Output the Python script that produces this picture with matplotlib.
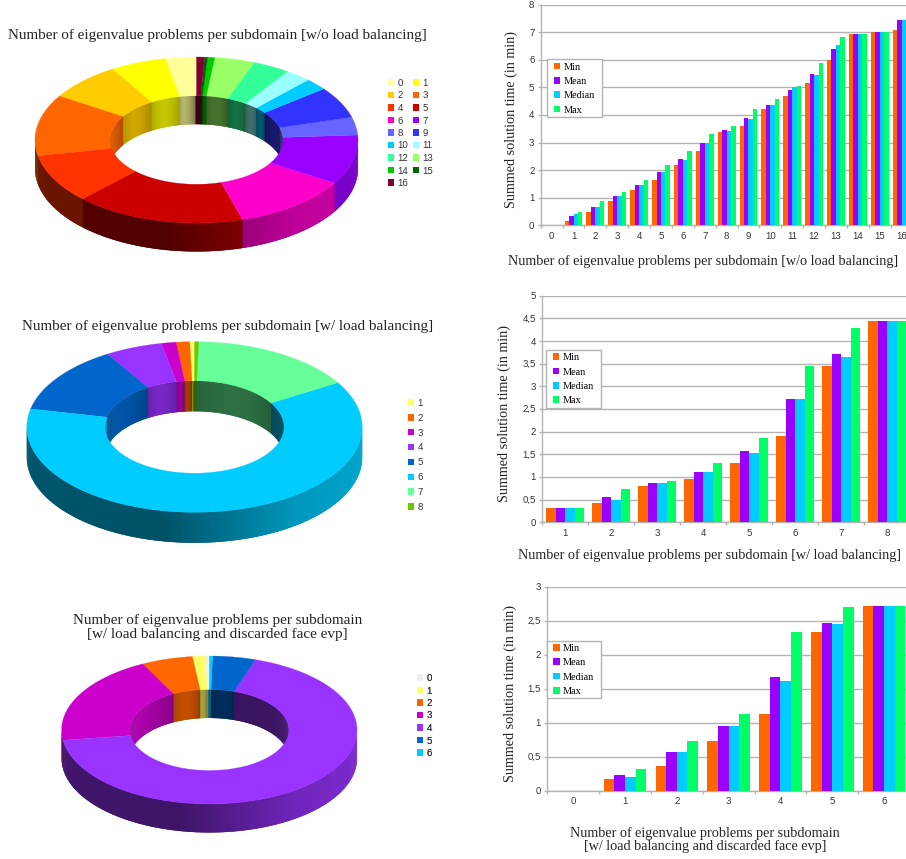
import numpy as np
import matplotlib
matplotlib.use("Agg")
import matplotlib.pyplot as plt
from matplotlib.collections import PolyCollection
from matplotlib.patches import Patch, Rectangle
from matplotlib.colors import to_rgb
from matplotlib.transforms import Affine2D

plt.rcParams["text.hinting"] = "no_autohint"

W, H = 906, 859
SERIF = "Liberation Serif"
SANS = "Liberation Sans"
GRID = "#b3b3b3"

# Share of subdomains (percent) for each eigenvalue-problem count
plain_labels = [str(i) for i in range(17)]
plain_shares = [3.1, 5.6, 7.4, 11.9, 9.5, 17.0, 11.7, 9.6, 3.5, 6.1, 2.3, 2.6, 3.7, 4.0, 0.7, 0.3, 0.8]
plain_colors = ["#ffff99", "#ffff00", "#ffcc00", "#ff6600", "#ff3300", "#cc0000", "#ff00cc", "#9900ff", "#6666ff",
                "#3333ff", "#00ccff", "#99ffff", "#33ff99", "#99ff66", "#00cc00", "#006600", "#800033"]

balanced_labels = [str(i) for i in range(1, 9)]
balanced_shares = [0.45, 1.3, 1.45, 5.5, 12.9, 62.1, 15.9, 0.4]
balanced_colors = ["#ffff66", "#ff6600", "#cc00cc", "#9933ff", "#0066cc", "#00ccff", "#66ff99", "#66cc00"]

discarded_labels = [str(i) for i in range(7)]
discarded_shares = [0.47, 1.37, 5.6, 19.76, 67.75, 4.7, 0.35]
discarded_colors = ["#eeeeee", "#ffff66", "#ff6600", "#cc00cc", "#9933ff", "#0066cc", "#00ccff"]

# Summed solution time (minutes) per category
plain_min = [0, 0.15, 0.47, 0.87, 1.27, 1.63, 2.18, 2.68, 3.38, 3.60, 4.22, 4.68, 5.16, 6.00, 6.94, 7.00, 7.08]
plain_mean = [0, 0.33, 0.65, 1.05, 1.45, 1.92, 2.40, 2.98, 3.45, 3.88, 4.36, 4.90, 5.48, 6.38, 6.94, 7.00, 7.45]
plain_median = [0, 0.40, 0.65, 1.05, 1.45, 1.92, 2.37, 2.98, 3.42, 3.85, 4.36, 5.00, 5.45, 6.53, 6.94, 7.00, 7.45]
plain_max = [0, 0.47, 0.87, 1.20, 1.63, 2.18, 2.68, 3.30, 3.60, 4.22, 4.58, 5.05, 5.88, 6.82, 6.94, 7.00, 7.78]

balanced_min = [0.31, 0.42, 0.80, 0.95, 1.30, 1.90, 3.44, 4.45]
balanced_mean = [0.31, 0.55, 0.86, 1.10, 1.57, 2.71, 3.72, 4.45]
balanced_median = [0.31, 0.49, 0.86, 1.10, 1.54, 2.71, 3.64, 4.45]
balanced_max = [0.31, 0.73, 0.91, 1.30, 1.86, 3.44, 4.28, 4.45]

discarded_min = [0, 0.18, 0.37, 0.73, 1.13, 2.34, 2.72]
discarded_mean = [0, 0.24, 0.58, 0.95, 1.67, 2.46, 2.72]
discarded_median = [0, 0.21, 0.57, 0.95, 1.61, 2.45, 2.72]
discarded_max = [0, 0.32, 0.73, 1.13, 2.33, 2.70, 2.72]

series_names = ["Min", "Mean", "Median", "Max"]
series_colors = ["#ff6600", "#9900ff", "#00ccff", "#00ff66"]

title_plain = "Number of eigenvalue problems per subdomain [w/o load balancing]"
title_balanced = "Number of eigenvalue problems per subdomain [w/ load balancing]"
title_discarded = "Number of eigenvalue problems per subdomain\n[w/ load balancing and discarded face evp]"

fig = plt.figure(figsize=(W / 100, H / 100), dpi=100, facecolor="white")
to_px = Affine2D().scale(1, -1).translate(0, H)  # pixel coordinates, origin top-left

canvas = fig.add_axes([0, 0, 1, 1], facecolor="none")
canvas.set_xlim(0, W)
canvas.set_ylim(H, 0)
canvas.axis("off")


def outer_shade(u):
    """Brightness of the outer wall at horizontal position u in [-1, 1]."""
    return np.interp(u, [-1, -0.2, 0.6, 1], [0.42, 0.40, 0.74, 0.80])


def inner_shade(u):
    """Brightness of the inner wall at horizontal position u in [-1, 1]."""
    return np.interp(u, [-1, -0.15, 0.05, 1], [0.82, 0.72, 0.44, 0.40])


def draw_donut(shares, colors, cx, cy, a, b, ia, ib, depth):
    shares = np.asarray(shares, dtype=float)
    edges = np.concatenate([[0], np.cumsum(shares)]) / shares.sum() * 2 * np.pi
    overlap = 0.012  # each wall strip runs under the next one, hiding the seams

    def ring(theta, ra, rb, dy=0.0):
        return np.column_stack([cx - ra * np.sin(theta), cy - rb * np.cos(theta) + dy])

    wall_polys, wall_cols, top_polys, top_cols = [], [], [], []
    for start, end, col in zip(edges[:-1], edges[1:], colors):
        rgb = np.array(to_rgb(col))
        th = np.linspace(start, end, max(3, int(np.degrees(end - start) * 2) + 2))
        top_polys.append(np.vstack([ring(th, a, b), ring(th[::-1], ia, ib)]))
        top_cols.append(rgb)
        for i in range(len(th) - 1):
            seg = np.array([th[i], th[i + 1] + overlap])
            mid = (th[i] + th[i + 1]) / 2
            u = -np.sin(mid)
            if np.cos(mid) < 0:
                wall_polys.append(np.vstack([ring(seg, a, b), ring(seg[::-1], a, b, depth)]))
                wall_cols.append(rgb * outer_shade(u))
            else:
                s = (mid - start) / max(end - start, 1e-6)
                wall_polys.append(np.vstack([ring(seg, ia, ib), ring(seg[::-1], ia, ib, depth)]))
                wall_cols.append(rgb * inner_shade(u) * (0.88 + 0.16 * np.sin(np.pi * s)))
    canvas.add_collection(PolyCollection(wall_polys, facecolors=wall_cols, edgecolors="none", zorder=1))
    canvas.add_collection(PolyCollection(top_polys, facecolors=top_cols, edgecolors=top_cols,
                                         linewidths=0.2, zorder=2))


def donut_legend(labels, colors, ncol, x, y, labelspacing, columnspacing=0.49):
    handles = [Patch(facecolor=c, edgecolor="none", label=t) for t, c in zip(labels, colors)]
    if ncol == 2:
        handles = handles[0::2] + handles[1::2]
    leg = canvas.legend(handles=handles, ncol=ncol, loc="upper left", bbox_to_anchor=(x, y),
                        bbox_transform=to_px, borderaxespad=0, borderpad=0, frameon=False,
                        prop={"family": SANS, "size": 7.0}, handlelength=0.62, handleheight=0.62,
                        handletextpad=0.36, labelspacing=labelspacing, columnspacing=columnspacing)
    for text in leg.get_texts():
        text.set_color("#333333")
    canvas.add_artist(leg)


def draw_bars(series, left, right, top, bottom, ymax, ystep, tick_labels, legend_box, xlabel, xlabel_xy, ylabel_xy):
    ax = fig.add_axes([left / W, 1 - bottom / H, (right - left) / W, (bottom - top) / H], facecolor="none")
    n = len(tick_labels)
    x = np.arange(n)
    width = 0.205
    for k, (vals, name, col) in enumerate(zip(series, series_names, series_colors)):
        ax.bar(x + (k - 1.5) * width, vals, width=width, color=col, linewidth=0, label=name, zorder=3)
    ax.set_xlim(-0.5, n - 0.5)
    ax.set_ylim(0, ymax)
    ax.set_axisbelow(True)
    ax.yaxis.grid(True, color=GRID, linewidth=1.0)
    ax.xaxis.grid(False)
    for name in ("top", "right"):
        ax.spines[name].set_visible(False)
    for name in ("left", "bottom"):
        ax.spines[name].set_color(GRID)
        ax.spines[name].set_linewidth(1.0)
    ax.set_xticks(np.arange(n + 1) - 0.5)
    ax.set_xticklabels([])
    ax.set_xticks(x, minor=True)
    ax.set_xticklabels(tick_labels, minor=True, family=SANS, fontsize=6.9, color="#333333")
    ax.tick_params(axis="x", which="major", length=2.5, width=1.0, color=GRID)
    ax.tick_params(axis="x", which="minor", length=0, pad=4.5)
    yticks = np.arange(0, ymax + 1e-9, ystep)
    ax.set_yticks(yticks)
    ax.set_yticklabels([f"{v:g}".replace(".", ",") for v in yticks], family=SANS, fontsize=6.9, color="#333333")
    ax.tick_params(axis="y", length=2.5, width=1.0, color=GRID, pad=2)
    ax.set_xlabel(xlabel, family=SERIF, fontsize=10.14, color="#222222", va="center", linespacing=1.08)
    ax.xaxis.set_label_coords(xlabel_xy[0], xlabel_xy[1], transform=to_px)
    ax.set_ylabel("Summed solution time (in min)", family=SERIF, fontsize=10.14, color="#222222", va="center")
    ax.yaxis.set_label_coords(ylabel_xy[0], ylabel_xy[1], transform=to_px)
    # White box behind the key, sized independently of the legend's own padding
    bx, by, bw, bh = legend_box
    ax.add_patch(Rectangle((bx, by), bw, bh, transform=to_px, facecolor="white", edgecolor=GRID, linewidth=1.0,
                           clip_on=False, zorder=4))
    leg = ax.legend(loc="upper left", bbox_to_anchor=(bx + 6.5, by + 3.2), bbox_transform=to_px, borderaxespad=0,
                    frameon=False, prop={"family": SERIF, "size": 7.4}, handlelength=0.62, handleheight=0.62,
                    handletextpad=0.35, labelspacing=0.52, borderpad=0)
    leg.set_zorder(5)
    return ax


# Left column: donut charts
draw_donut(plain_shares, plain_colors, 196.5, 140, 161.5, 83, 86.5, 44.3, 28.5)
draw_donut(balanced_shares, balanced_colors, 194.5, 427, 167.7, 85.3, 89.5, 46.2, 30.5)
draw_donut(discarded_shares, discarded_colors, 209.3, 730, 147.7, 74, 79.5, 40.5, 28.5)

canvas.text(217.5, 35, title_plain, family=SERIF, fontsize=10.9, color="#222222", ha="center", va="center", zorder=5)
canvas.text(227.5, 326.5, title_balanced, family=SERIF, fontsize=10.9, color="#222222", ha="center", va="center",
            zorder=5)
canvas.text(217.8, 627.5, title_discarded, family=SERIF, fontsize=10.9, color="#222222", ha="center", va="center",
            linespacing=1.1, zorder=5)

donut_legend(plain_labels, plain_colors, 2, 388, 79, 0.36)
donut_legend(balanced_labels, balanced_colors, 1, 408, 399, 0.6)
donut_legend(discarded_labels, discarded_colors, 1, 417, 674, 0.36)

# Right column: grouped bar charts
draw_bars([plain_min, plain_mean, plain_median, plain_max], 540.7, 912.5, 4.7, 225.3, 8, 1,
          [str(i) for i in range(17)], (547.3, 59.3, 54.4, 57.4), title_plain, (703, 262), (511.5, 120))
draw_bars([balanced_min, balanced_mean, balanced_median, balanced_max], 542.3, 910.3, 295.7, 522.3, 5, 0.5,
          balanced_labels, (546, 350, 54.7, 57.7), title_balanced, (709, 555), (504.5, 413))
draw_bars([discarded_min, discarded_mean, discarded_median, discarded_max], 547.3, 910, 586.7, 791, 3, 0.5,
          discarded_labels, (546.7, 640.7, 54.3, 57.6), title_discarded, (705, 840), (510.5, 693))

fig.savefig("out.png", dpi=100, facecolor="white")
